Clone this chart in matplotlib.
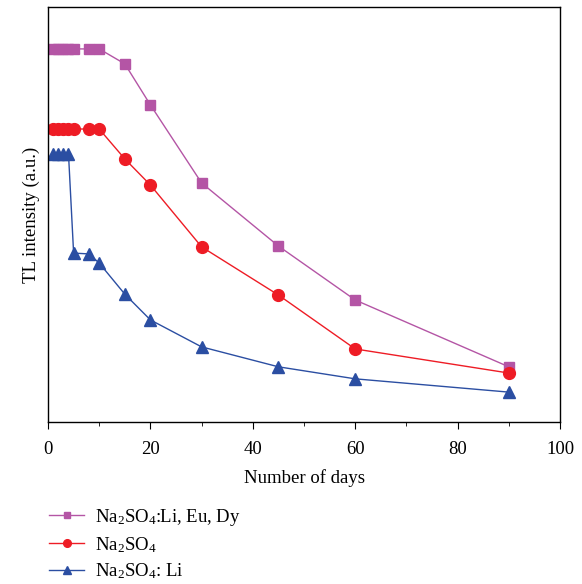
import matplotlib
matplotlib.use("Agg")
import matplotlib.pyplot as plt
from matplotlib.ticker import MultipleLocator

plt.rcParams['font.family'] = ['Liberation Serif', 'DejaVu Serif']
plt.rcParams['mathtext.fontset'] = 'custom'
plt.rcParams['mathtext.rm'] = 'Liberation Serif'

# storage time (days) and TL intensity (arbitrary units)
days_lied = [1, 2, 3, 4, 5, 8, 10, 15, 20, 30, 45, 60, 90]
tl_lied = [89.9, 89.9, 89.9, 89.9, 89.9, 89.9, 89.9, 86.3, 76.4, 57.6, 42.4, 29.4, 13.3]

days_pure = [1, 2, 3, 4, 5, 8, 10, 15, 20, 30, 45, 60, 90]
tl_pure = [70.6, 70.6, 70.6, 70.6, 70.6, 70.6, 70.6, 63.4, 57.1, 42.2, 30.6, 17.6, 11.8]

days_li = [1, 2, 3, 4, 5, 8, 10, 15, 20, 30, 45, 60, 90]
tl_li = [64.6, 64.6, 64.6, 64.6, 40.7, 40.5, 38.3, 30.8, 24.6, 18.1, 13.3, 10.4, 7.2]

labels = [r'Na$\mathregular{_2}$SO$\mathregular{_4}$:Li, Eu, Dy',
          r'Na$\mathregular{_2}$SO$\mathregular{_4}$',
          r'Na$\mathregular{_2}$SO$\mathregular{_4}$: Li']

fig = plt.figure(figsize=(5.82, 5.84), dpi=100)
ax = fig.add_axes([0.0825, 0.2774, 0.8797, 0.7106])

l1, = ax.plot(days_lied, tl_lied, '-s', color='#B455A5', lw=1.0, ms=6.5,
              label=labels[0])
l2, = ax.plot(days_pure, tl_pure, '-o', color='#EE1C25', lw=1.0, ms=8.5,
              label=labels[1])
l3, = ax.plot(days_li, tl_li, '-^', color='#2B4EA2', lw=1.0, ms=9,
              label=labels[2])

ax.set_xlim(0, 100)
ax.set_ylim(0, 100)
ax.xaxis.set_major_locator(MultipleLocator(20))
ax.xaxis.set_minor_locator(MultipleLocator(10))
ax.tick_params(axis='x', which='major', direction='out', length=5, pad=9,
               labelsize=13.5)
ax.tick_params(axis='x', which='minor', direction='out', length=3)
ax.set_yticks([])
for s in ax.spines.values():
    s.set_linewidth(1.0)

ax.set_xlabel('Number of days', fontsize=13.5, labelpad=8)
ax.set_ylabel('TL intensity (a.u.)', fontsize=13.5, labelpad=6)

fig.legend(handles=[l1, l2, l3], loc='upper left', bbox_to_anchor=(0.072, 0.145),
           frameon=False, fontsize=13.5, handlelength=1.85, handletextpad=0.6,
           labelspacing=0.38, borderaxespad=0, markerscale=0.65)

fig.savefig('out.png', dpi=100)
